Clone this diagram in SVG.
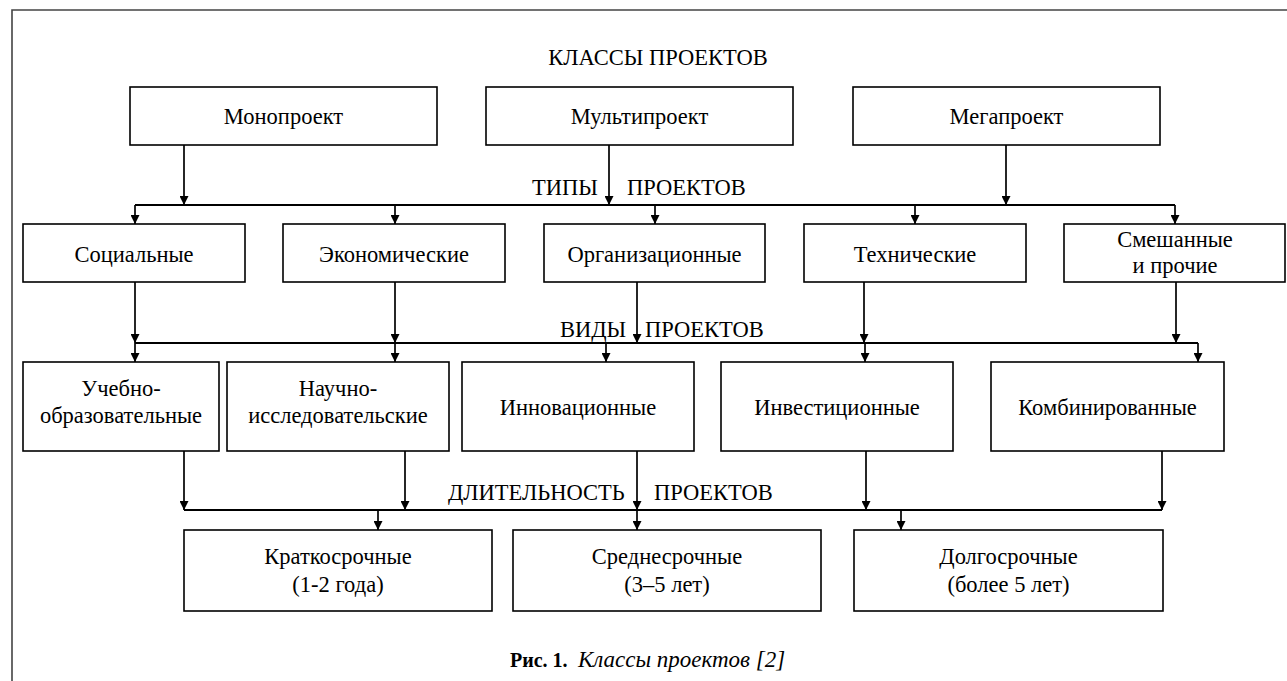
<svg xmlns="http://www.w3.org/2000/svg" width="1287" height="681" viewBox="0 0 1287 681">
<defs>
<marker id="ah" markerUnits="userSpaceOnUse" markerWidth="9" markerHeight="9" viewBox="0 0 8 8" refX="8" refY="4" orient="auto">
<path d="M0,0 L8,4 L0,8 Z" fill="#000"/>
</marker>
<style>
.box{fill:#fff;stroke:#000;stroke-width:1.6}
.t{font-family:'Liberation Serif','Times New Roman','DejaVu Serif',serif;font-size:22.5px;fill:#000}
.c{text-anchor:middle}
.bus{fill:none;stroke:#000;stroke-width:2}
.ar{fill:none;stroke:#000;stroke-width:1.7;marker-end:url(#ah)}
.cap{font-family:'Liberation Serif','Times New Roman','DejaVu Serif',serif;font-size:20px;fill:#000}
</style>
</defs>
<rect width="1287" height="681" fill="#fff"/>
<path d="M12,681 V10 H1287" fill="none" stroke="#444" stroke-width="1.6"/>

<text class="t c" x="658" y="65">КЛАССЫ ПРОЕКТОВ</text>

<g id="connectors">
<path class="ar" d="M184,145 V205"/>
<path class="ar" d="M609,145 V205"/>
<path class="ar" d="M1006,145 V205"/>
<path class="bus" d="M135,205 H1175"/>
<path class="ar" d="M135,205 V224"/>
<path class="ar" d="M395,205 V224"/>
<path class="ar" d="M655,205 V224"/>
<path class="ar" d="M915,205 V224"/>
<path class="ar" d="M1175,205 V224"/>

<path class="ar" d="M135,282 V343"/>
<path class="ar" d="M395,282 V343"/>
<path class="ar" d="M637,282 V343"/>
<path class="ar" d="M864,282 V343"/>
<path class="ar" d="M1176,282 V343"/>
<path class="bus" d="M135,343 H1198"/>
<path class="ar" d="M135,343 V362"/>
<path class="ar" d="M395,343 V362"/>
<path class="ar" d="M606,343 V362"/>
<path class="ar" d="M865,343 V362"/>
<path class="ar" d="M1198,343 V362"/>

<path class="ar" d="M184,451 V510"/>
<path class="ar" d="M405,451 V510"/>
<path class="ar" d="M637,451 V510"/>
<path class="ar" d="M866,451 V510"/>
<path class="ar" d="M1162,451 V510"/>
<path class="bus" d="M184,510 H1162"/>
<path class="ar" d="M378,510 V530"/>
<path class="ar" d="M637,510 V530"/>
<path class="ar" d="M901,510 V530"/>
</g>

<g id="labels">
<text class="t" x="532" y="195">ТИПЫ</text>
<text class="t" x="627" y="195">ПРОЕКТОВ</text>
<text class="t" x="560" y="337">ВИДЫ</text>
<text class="t" x="645" y="337">ПРОЕКТОВ</text>
<text class="t" x="448" y="500">ДЛИТЕЛЬНОСТЬ</text>
<text class="t" x="654" y="500">ПРОЕКТОВ</text>
</g>

<g id="mono"><rect class="box" x="130" y="87" width="307" height="58"/><text class="t c" x="283.5" y="124">Монопроект</text></g>
<g id="multi"><rect class="box" x="486" y="87" width="307" height="58"/><text class="t c" x="639.5" y="124">Мультипроект</text></g>
<g id="mega"><rect class="box" x="853" y="87" width="307" height="58"/><text class="t c" x="1006.5" y="124">Мегапроект</text></g>

<g id="social"><rect class="box" x="23" y="224" width="222" height="58"/><text class="t c" x="134" y="262">Социальные</text></g>
<g id="econ"><rect class="box" x="283" y="224" width="222" height="58"/><text class="t c" x="394" y="262">Экономические</text></g>
<g id="org"><rect class="box" x="544" y="224" width="221" height="58"/><text class="t c" x="654.5" y="262">Организационные</text></g>
<g id="tech"><rect class="box" x="804" y="224" width="222" height="58"/><text class="t c" x="915" y="262">Технические</text></g>
<g id="mixed"><rect class="box" x="1064" y="224" width="221" height="58"/><text class="t c" x="1175" y="247">Смешанные</text><text class="t c" x="1175" y="273">и прочие</text></g>

<g id="edu"><rect class="box" x="23" y="362" width="196" height="89"/><text class="t c" x="121" y="396">Учебно-</text><text class="t c" x="121" y="423">образовательные</text></g>
<g id="sci"><rect class="box" x="227" y="362" width="222" height="89"/><text class="t c" x="338" y="396">Научно-</text><text class="t c" x="338" y="423">исследовательские</text></g>
<g id="innov"><rect class="box" x="462" y="362" width="232" height="89"/><text class="t c" x="578" y="415">Инновационные</text></g>
<g id="invest"><rect class="box" x="721" y="362" width="232" height="89"/><text class="t c" x="837" y="415">Инвестиционные</text></g>
<g id="comb"><rect class="box" x="991" y="362" width="233" height="89"/><text class="t c" x="1107.5" y="415">Комбинированные</text></g>

<g id="short"><rect class="box" x="184" y="530" width="308" height="81"/><text class="t c" x="338" y="564">Краткосрочные</text><text class="t c" x="338" y="592">(1-2 года)</text></g>
<g id="medium"><rect class="box" x="513" y="530" width="308" height="81"/><text class="t c" x="667" y="564">Среднесрочные</text><text class="t c" x="667" y="592">(3–5 лет)</text></g>
<g id="long"><rect class="box" x="854" y="530" width="309" height="81"/><text class="t c" x="1008.5" y="564">Долгосрочные</text><text class="t c" x="1008.5" y="592">(более 5 лет)</text></g>

<text class="cap" y="667"><tspan x="510" font-weight="bold">Рис. 1.</tspan><tspan x="578" font-style="italic" font-size="23">Классы проектов [2]</tspan></text>
</svg>
